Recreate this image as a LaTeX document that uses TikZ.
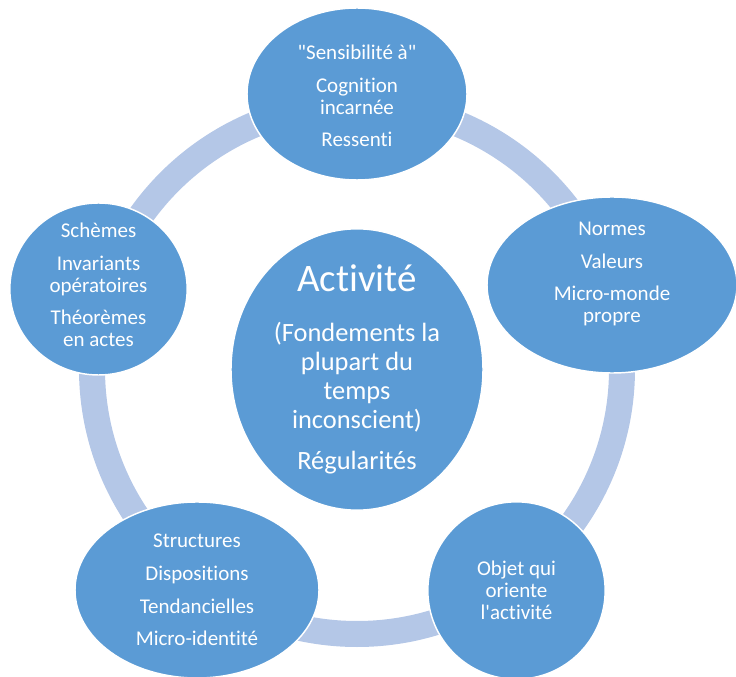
\documentclass[tikz,border=0pt]{standalone}
\usepackage{fontspec}
\setmainfont{Carlito}[Ligatures={NoCommon}]
\usepackage{tikz}
\usetikzlibrary{shapes.geometric}
\definecolor{nodeblue}{HTML}{5B9BD5}
\definecolor{ringblue}{HTML}{B4C7E7}
\tikzset{bubble/.style={ellipse, fill=nodeblue, draw=white, line width=1.1pt, inner sep=0pt},
	bubbletext/.style={text=white, align=center, inner sep=0pt, font=\fontsize{15.75pt}{16.5pt}\selectfont},
	cyclering/.style={draw=ringblue, line width=19.5pt}}

\begin{document}
\begin{tikzpicture}[x=.75pt, y=-.75pt]
	\useasboundingbox (0,0) rectangle (736,677);
	
	% ring behind the bubbles
	\coordinate (hub) at (357,369);
	\draw [cyclering] (hub) circle [radius=198.75pt];
	
	\node [bubble, minimum width=165pt, minimum height=129pt] (sens) at (357,94) {};
	\node [bubble, minimum width=187.5pt, minimum height=132pt] (norm) at (612,285) {};
	\node [bubble, minimum width=133pt, minimum height=133pt] (objet) at (516.5,590.5) {};
	\node [bubble, minimum width=183pt, minimum height=132pt] (struc) at (197,590) {};
	\node [bubble, minimum width=133pt, minimum height=129pt] (schem) at (98.5,289) {};
	\node [bubble, minimum width=189pt, minimum height=211pt] (activ) at (357,369.5) {};
	
	\node [bubbletext] (sensT) at (357,96) {\textquotedbl Sensibilité à\textquotedbl\\[7.9pt] Cognition\\ incarnée\\[7.9pt] Ressenti};
	\node [bubbletext] (normT) at (612,274) {Normes\\[7.9pt] Valeurs\\[7.9pt] Micro-monde\\ propre};
	\node [bubbletext] (objetT) at (objet) {Objet qui\\ oriente\\ l\textquotesingle activité};
	\node [bubbletext] (strucT) at (struc) {Structures\\[7.9pt] Dispositions\\[7.9pt] Tendancielles\\[7.9pt] Micro-identité};
	\node [bubbletext] (schemT) at (98.5,285) {Schèmes\\[7.9pt] Invariants\\ opératoires\\[7.9pt] Théorèmes\\ en actes};
	\node [bubbletext, font=\fontsize{19.8pt}{21.75pt}\selectfont] (activT) at (activ)
		{{\fontsize{29.2pt}{35pt}\selectfont Activité}\\[15.75pt] (Fondements la\\ plupart du\\ temps\\ inconscient)\\[9pt] Régularités};
	
\end{tikzpicture}
\end{document}
